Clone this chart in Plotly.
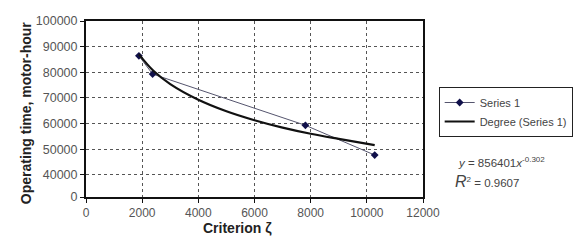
import plotly.graph_objects as go

# Data
series_x = [1884, 2372, 7813, 10280]
series_y = [86400, 79300, 59300, 47700]

trend_x = [1884, 2400, 3000, 4000, 5000, 6000, 7000, 8000, 9000, 10280]
trend_y = [87000, 80600, 75400, 69300, 64800, 61300, 58400, 56000, 54000, 51600]

x_ticks = [0, 2000, 4000, 6000, 8000, 10000, 12000]
x_ticklabels = ["0", "2000", "4000", "6000", "8000", "10000", "12000"]
y_floor = 31330  # axis break: bottom of axis is labelled 0
y_ticks = [y_floor, 40000, 50000, 60000, 70000, 80000, 90000, 100000]
y_ticklabels = ["0", "40000", "50000", "60000", "70000", "80000", "90000", "100000"]

FONT = "Liberation Sans, Arial, sans-serif"

W, H = 585, 248
L, R, T, B = 86, 155, 21, 51
pw, ph = W - L - R, H - T - B


def px(x):
    return (x - L) / pw


def py(y):
    return 1 - (y - T) / ph


fig = go.Figure()
fig.add_trace(go.Scatter(
    x=series_x, y=series_y, mode="lines+markers", name="Series 1",
    line=dict(color="#55556e", width=1),
    marker=dict(symbol="diamond", size=6, color="#10104a"),
))
fig.add_trace(go.Scatter(
    x=trend_x, y=trend_y, mode="lines", name="Degree (Series 1)",
    line=dict(color="#111111", width=2.2, shape="spline"),
))

fig.update_layout(
    width=W, height=H,
    margin=dict(l=L, r=R, t=T, b=B),
    paper_bgcolor="white", plot_bgcolor="white",
    font=dict(family=FONT, size=12, color="#333"),
    showlegend=True,
    legend=dict(
        x=px(446), y=py(87),
        xanchor="left", yanchor="top",
        bordercolor="#222", borderwidth=1, bgcolor="white",
        font=dict(size=11, color="#444"),
        tracegroupgap=0, itemwidth=30,
    ),
)

fig.update_xaxes(
    range=[0, 12000], tickvals=x_ticks, ticktext=x_ticklabels,
    showgrid=True, gridcolor="#555", griddash="dot", gridwidth=1,
    showline=True, linecolor="#111", linewidth=2, mirror=True,
    ticks="outside", ticklen=4, tickcolor="#111",
    tickfont=dict(size=12, color="#555"),
    zeroline=False,
)
fig.update_yaxes(
    range=[y_floor, 100000], tickvals=y_ticks, ticktext=y_ticklabels,
    showgrid=True, gridcolor="#555", griddash="dot", gridwidth=1,
    showline=True, linecolor="#111", linewidth=2, mirror=True,
    ticks="outside", ticklen=4, tickcolor="#111",
    tickfont=dict(size=12.5, color="#555"),
    zeroline=False,
)

fig.add_annotation(
    text="<b>Operating time, motor-hour</b>", textangle=-90,
    xref="paper", yref="paper", x=px(25), y=py(113),
    showarrow=False, font=dict(size=14, color="#222"),
    xanchor="center", yanchor="middle",
)
fig.add_annotation(
    text="<b>Criterion ζ</b>",
    xref="paper", yref="paper", x=px(241), y=py(228),
    showarrow=False, font=dict(size=14, color="#222"),
    xanchor="center", yanchor="middle",
)
fig.add_annotation(
    text="<i>y</i> = 856401<i>x</i><sup>-0.302</sup>",
    xref="paper", yref="paper", x=px(464), y=py(162),
    showarrow=False, font=dict(size=11.5, color="#444"),
    xanchor="left", yanchor="middle",
)
fig.add_annotation(
    text="<span style='font-size:16px'><i>R</i></span><sup>2</sup> = 0.9607",
    xref="paper", yref="paper", x=px(461), y=py(181),
    showarrow=False, font=dict(size=11.5, color="#444"),
    xanchor="left", yanchor="middle",
)

fig.write_html(
    "out.html",
    config={"displayModeBar": False},
    post_script="document.body.style.margin='0';document.body.style.overflow='hidden';",
)
